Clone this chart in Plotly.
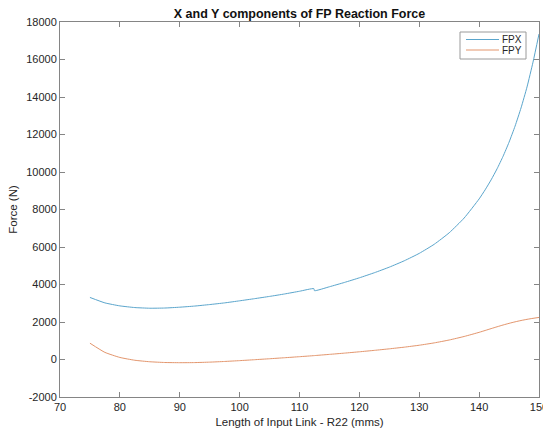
import plotly.graph_objects as go

# Input link length R22 (mm)
r22 = [75, 77.5, 80, 82.5, 85, 87.5, 90, 92.5, 95, 97.5, 100, 102.5, 105, 107.5,
       110, 112.4, 112.5, 115, 117.5, 120, 122.5, 125, 127.5, 130, 132.5, 135,
       137.5, 140, 141, 142, 143, 144, 145, 146, 147, 148, 149, 150]

# X component of the FP reaction force (N)
fpx = [3310, 3020, 2860, 2770, 2735, 2745, 2790, 2850, 2930, 3020, 3130, 3245,
       3365, 3495, 3640, 3780, 3670, 3880, 4109, 4357, 4627, 4926, 5265, 5661,
       6145, 6758, 7546, 8565, 9048, 9580, 10173, 10838, 11590, 12445, 13418,
       14536, 15860, 17360]

# Y component of the FP reaction force (N)
fpy = [870, 380, 110, -40, -120, -160, -170, -165, -140, -105, -60, -11, 40, 94,
       150, 206, 209, 273, 340, 411, 487, 569, 658, 761, 886, 1040, 1228, 1449,
       1547, 1647, 1745, 1840, 1928, 2008, 2080, 2142, 2196, 2243]

x_ticks = [70, 80, 90, 100, 110, 120, 130, 140, 150]
y_ticks = [-2000, 0, 2000, 4000, 6000, 8000, 10000, 12000, 14000, 16000, 18000]

series_names = ["FPX", "FPY"]
series_colors = ["#5aa5cc", "#e3956c"]

FONT = "Liberation Sans, Arial, Helvetica, sans-serif"
TEXT = "#262626"
AXIS = "#858585"

W, H = 543, 428
L, R, T, B = 60, 539, 22, 397   # plot area edges in pixels


def px_x(px):
    return (px - L) / (R - L)


def px_y(py):
    return (B - py) / (B - T)


fig = go.Figure()
for name, ys, color in zip(series_names, [fpx, fpy], series_colors):
    fig.add_trace(go.Scatter(x=r22, y=ys, mode="lines", name=name,
                             line=dict(color=color, width=1, shape="spline", smoothing=0.5)))

axis_common = dict(
    showline=True, linecolor=AXIS, linewidth=1, mirror="ticks",
    ticks="inside", ticklen=5, tickcolor=AXIS, tickwidth=1,
    showgrid=False, zeroline=False,
    tickfont=dict(family=FONT, size=11, color=TEXT),
    ticklabeloverflow="allow",
)

# Boxed legend in the upper right corner
shapes = [dict(type="rect", xref="paper", yref="paper",
               x0=px_x(460), x1=px_x(526), y0=px_y(59), y1=px_y(32),
               line=dict(color="#9a9a9a", width=1), fillcolor="white", layer="above")]
annotations = []
for i, (name, color) in enumerate(zip(series_names, series_colors)):
    ly = 39.5 + i * 10.5
    shapes.append(dict(type="line", xref="paper", yref="paper",
                       x0=px_x(466), x1=px_x(499), y0=px_y(ly), y1=px_y(ly),
                       line=dict(color=color, width=1), layer="above"))
    annotations.append(dict(text=name, xref="paper", yref="paper",
                            x=px_x(523), y=px_y(ly), xanchor="right", yanchor="middle",
                            showarrow=False, borderpad=0,
                            font=dict(family=FONT, size=10, color=TEXT)))

fig.update_layout(
    width=W, height=H,
    margin=dict(l=L, r=W - R, t=T, b=H - B, autoexpand=False),
    paper_bgcolor="white", plot_bgcolor="white",
    font=dict(family=FONT, color=TEXT),
    title=dict(text="<b>X and Y components of FP Reaction Force</b>",
               font=dict(family=FONT, size=12.5, color="#111111"),
               x=(L + R) / 2 / W, xanchor="center",
               y=1 - 14 / H, yanchor="middle"),
    xaxis=dict(range=[70, 150], tickvals=x_ticks,
               ticktext=[str(v) for v in x_ticks], **axis_common,
               title=dict(text="Length of Input Link - R22 (mms)",
                          font=dict(family=FONT, size=11.5, color=TEXT), standoff=7)),
    yaxis=dict(range=[-2000, 18000], tickvals=y_ticks,
               ticktext=[str(v) for v in y_ticks], **axis_common,
               title=dict(text="Force (N)",
                          font=dict(family=FONT, size=11.5, color=TEXT), standoff=6)),
    shapes=shapes,
    annotations=annotations,
    showlegend=False,
)

fig.write_html("out.html")
